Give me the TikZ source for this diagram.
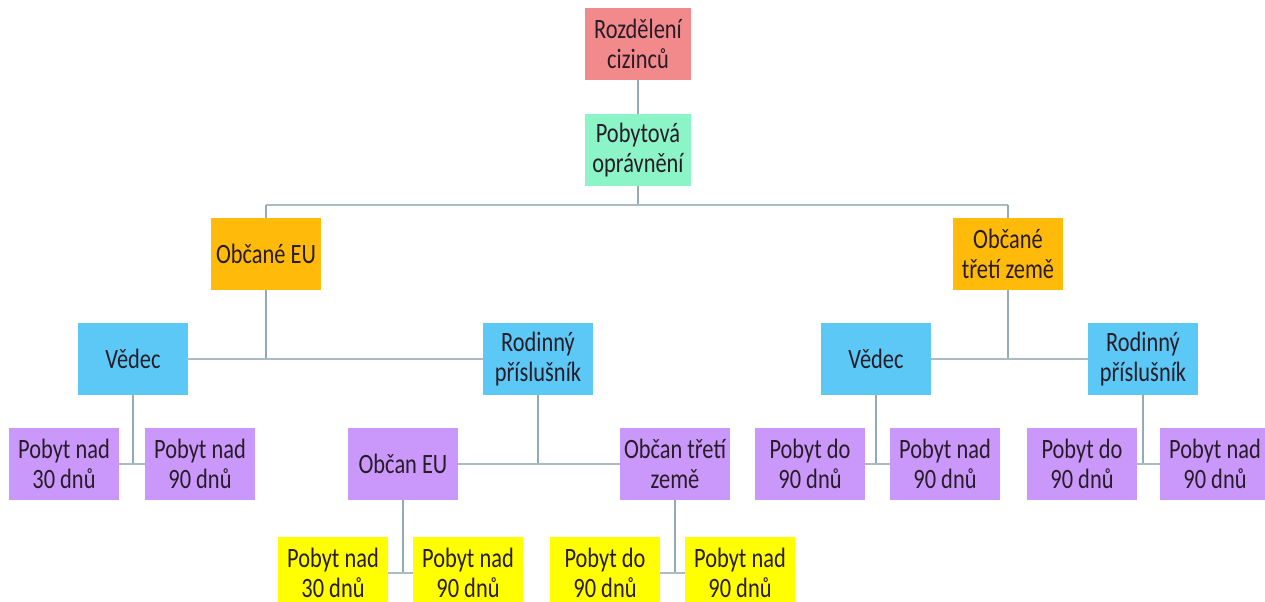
\documentclass[tikz,border=0pt]{standalone}
\usepackage{fontspec}
\setmainfont{Carlito}[FakeStretch=0.8]
\definecolor{cred}{RGB}{242,138,140}
\definecolor{cgreen}{RGB}{140,245,200}
\definecolor{corange}{RGB}{255,186,10}
\definecolor{cblue}{RGB}{92,200,245}
\definecolor{cpurple}{RGB}{202,152,250}
\definecolor{cyellow}{RGB}{255,255,0}
\definecolor{cline}{RGB}{150,170,182}
\definecolor{ctext}{RGB}{40,28,40}
\tikzset{
  box/.style={minimum width=82.5pt, minimum height=54pt, inner sep=0pt, align=center,
    text=ctext, font=\fontsize{21}{23}\selectfont},
  redbox/.style={box, fill=cred, minimum width=80pt},
  greenbox/.style={box, fill=cgreen, minimum width=80pt},
  orangebox/.style={box, fill=corange},
  bluebox/.style={box, fill=cblue},
  purplebox/.style={box, fill=cpurple},
  yellowbox/.style={box, fill=cyellow},
  vline/.style={draw=cline, line width=1pt},
  hline/.style={draw=cline!80, line width=1.8pt},
}
\begin{document}
\begin{tikzpicture}[x=0.75pt,y=-0.75pt]
\useasboundingbox (0,0) rectangle (1265,602);
\clip (0,0) rectangle (1265,602);
% level 0-1
\node[redbox] (root) at (638,44) {Rozdělení\\cizinců};
\node[greenbox] (pob) at (638,150) {Pobytová\\oprávnění};
% level 2
\node[orangebox] (eu) at (266,254) {Občané EU};
\node[orangebox] (tz) at (1008,254) {Občané\\třetí země};
% level 3
\node[bluebox] (v1) at (133,359) {Vědec};
\node[bluebox] (r1) at (538,359) {Rodinný\\příslušník};
\node[bluebox] (v2) at (876,359) {Vědec};
\node[bluebox] (r2) at (1143,359) {Rodinný\\příslušník};
% level 4
\node[purplebox] (p1) at (64,464) {Pobyt nad\\30 dnů};
\node[purplebox] (p2) at (200,464) {Pobyt nad\\90 dnů};
\node[purplebox] (oeu) at (403,464) {Občan EU};
\node[purplebox] (otz) at (675,464) {Občan třetí\\země};
\node[purplebox] (p3) at (810,464) {Pobyt do\\90 dnů};
\node[purplebox] (p4) at (945,464) {Pobyt nad\\90 dnů};
\node[purplebox] (p5) at (1082,464) {Pobyt do\\90 dnů};
\node[purplebox] (p6) at (1215,464) {Pobyt nad\\90 dnů};
% level 5
\node[yellowbox] (y1) at (333,573) {Pobyt nad\\30 dnů};
\node[yellowbox] (y2) at (468,573) {Pobyt nad\\90 dnů};
\node[yellowbox] (y3) at (605,573) {Pobyt do\\90 dnů};
\node[yellowbox] (y4) at (740,573) {Pobyt nad\\90 dnů};
% connectors
\coordinate (jA) at (638,205);
\draw[vline] (root.south) -- (pob.north);
\draw[vline] (pob.south) -- (jA);
\draw[hline] (eu.north |- jA) -- (tz.north |- jA);
\draw[vline] (eu.north) -- (eu.north |- jA);
\draw[vline] (tz.north) -- (tz.north |- jA);
% EU branch
\draw[vline] (eu.south) -- (eu.south |- v1.east);
\draw[hline] (v1.east) -- (r1.west);
\draw[vline] (v1.south) -- (v1.south |- p1.east);
\draw[hline] (p1.east) -- (p2.west);
\draw[vline] (r1.south) -- (r1.south |- oeu.east);
\draw[hline] (oeu.east) -- (otz.west);
\draw[vline] (oeu.south) -- (oeu.south |- y1.east);
\draw[hline] (y1.east) -- (y2.west);
\draw[vline] (otz.south) -- (otz.south |- y3.east);
\draw[hline] (y3.east) -- (y4.west);
% third-country branch
\draw[vline] (tz.south) -- (tz.south |- v2.east);
\draw[hline] (v2.east) -- (r2.west);
\draw[vline] (v2.south) -- (v2.south |- p3.east);
\draw[hline] (p3.east) -- (p4.west);
\draw[vline] (r2.south) -- (r2.south |- p5.east);
\draw[hline] (p5.east) -- (p6.west);
\end{tikzpicture}
\end{document}
